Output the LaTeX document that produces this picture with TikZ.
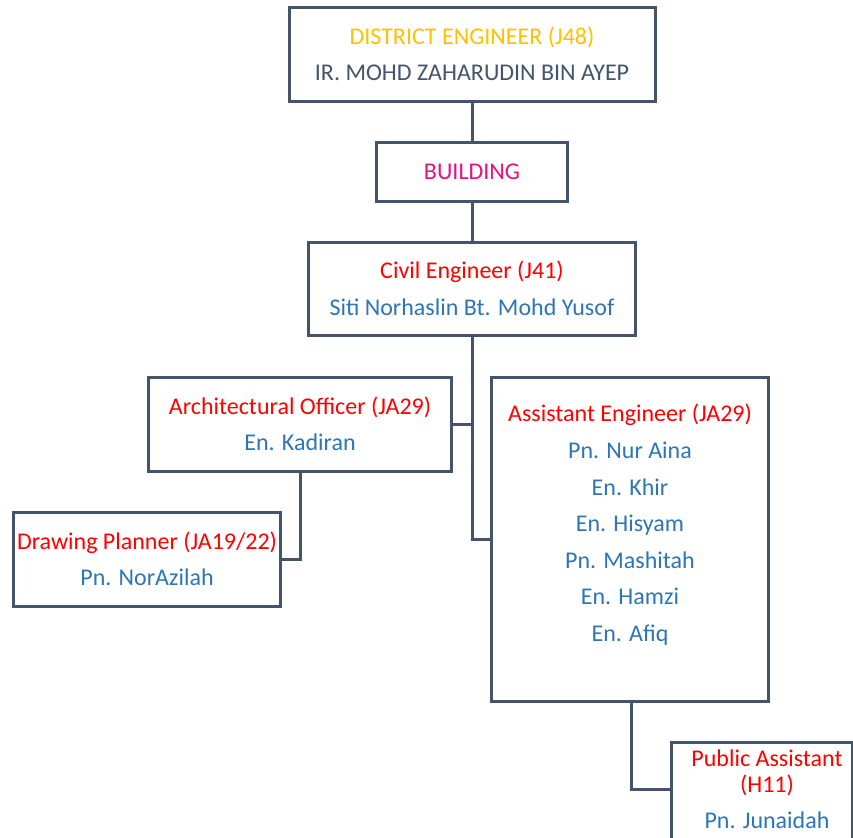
\documentclass[tikz,border=0pt]{standalone}
\usepackage{fontspec}
\setmainfont{Carlito}
\definecolor{edge}{HTML}{44546A}
\definecolor{gold}{HTML}{FFC000}
\definecolor{slate}{HTML}{44546A}
\definecolor{pinkish}{HTML}{E8117F}
\definecolor{redt}{HTML}{FF0000}
\definecolor{bluet}{HTML}{2E75B6}
\begin{document}
\begin{tikzpicture}[x=1pt,y=-1pt,
  box/.style={draw=edge,line width=3pt,fill=white,inner sep=0pt},
  conn/.style={draw=edge,line width=3pt},
  lbl/.style={font=\fontsize{24}{28}\selectfont,inner sep=0pt,anchor=base}]
\useasboundingbox (0,0) rectangle (853,837);
% boxes
\node[box,minimum width=366pt,minimum height=94pt] (de) at (472,55) {};
\node[box,minimum width=191pt,minimum height=58pt] (bd) at (472,172) {};
\node[box,minimum width=327pt,minimum height=93pt] (ce) at (472,288.5) {};
\node[box,minimum width=303pt,minimum height=94pt] (ao) at (299.5,424) {};
\node[box,minimum width=277pt,minimum height=324pt] (ae) at (629.5,539) {};
\node[box,minimum width=267pt,minimum height=94pt] (dp) at (146.5,559) {};
\node[box,minimum width=181pt,minimum height=110pt] (pa) at (761.5,797) {};
% connectors
\coordinate (j1) at (472,424);
\coordinate (j2) at (472,539);
\coordinate (j3) at (300,559);
\coordinate (j4) at (631,789);
\draw[conn] (de.south) -- (bd.north);
\draw[conn] (bd.south) -- (ce.north);
\draw[conn] (ce.south) -- (j2) -- (ae.west);
\draw[conn] (ao.east) -- (j1);
\draw[conn] (ao.south -| j3) -- (j3) -- (dp.east |- j3);
\draw[conn] (ae.south -| j4) -- (j4) -- (pa.west |- j4);
% texts (baseline positions)
\node[lbl,text=gold] (t1) at (472,45) {DISTRICT ENGINEER (J48)};
\node[lbl,text=slate] (t2) at (472,81) {IR. MOHD ZAHARUDIN BIN AYEP};
\node[lbl,text=pinkish] (t3) at (472,179) {BUILDING};
\node[lbl,text=redt] (t4) at (472,278) {Civil Engineer (J41)};
\node[lbl,text=bluet] (t5) at (472,315) {Siti Norhaslin Bt. Mohd Yusof};
\node[lbl,text=redt] (t6) at (300,414) {Architectural Officer (JA29)};
\node[lbl,text=bluet] (t7) at (300,450) {En. Kadiran};
\node[lbl,text=redt] (t8) at (630,421) {Assistant Engineer (JA29)};
\node[lbl,text=bluet] (t9) at (630,458) {Pn. Nur Aina};
\node[lbl,text=bluet] (t10) at (630,495) {En. Khir};
\node[lbl,text=bluet] (t11) at (630,531) {En. Hisyam};
\node[lbl,text=bluet] (t12) at (630,568) {Pn. Mashitah};
\node[lbl,text=bluet] (t13) at (630,604) {En. Hamzi};
\node[lbl,text=bluet] (t14) at (630,641) {En. Afiq};
\node[lbl,text=redt] (t15) at (147,549) {Drawing Planner (JA19/22)};
\node[lbl,text=bluet] (t16) at (147,585) {Pn. NorAzilah};
\node[lbl,text=redt] (t17) at (767,766) {Public Assistant};
\node[lbl,text=redt] (t18) at (767,792) {(H11)};
\node[lbl,text=bluet] (t19) at (767,828) {Pn. Junaidah};
\end{tikzpicture}
\end{document}
